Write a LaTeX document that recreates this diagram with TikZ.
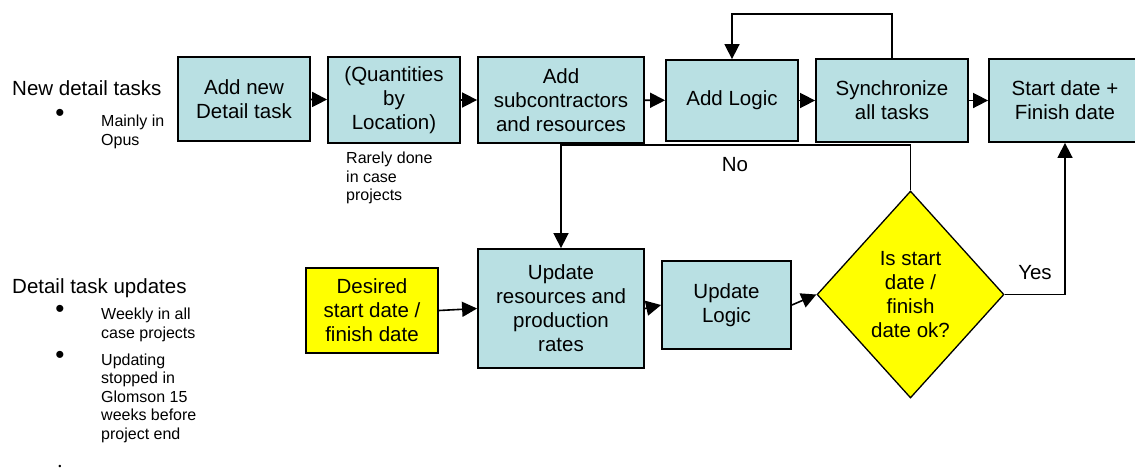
\documentclass[tikz,border=0pt]{standalone}
\usepackage{fontspec}
\setmainfont{Liberation Sans}
\usetikzlibrary{shapes.geometric,arrows.meta}
\definecolor{boxfill}{RGB}{185,224,227}
\definecolor{decfill}{RGB}{255,255,0}

\begin{document}
\begin{tikzpicture}[x=1pt,y=-1pt,
  box/.style={draw=black, line width=1.8pt, fill=boxfill, inner sep=0pt,
    align=center, font=\fontsize{20.5}{24}\selectfont},
  ybox/.style={box, fill=decfill},
  decision/.style={diamond, draw=black, line width=1.3pt, fill=decfill,
    inner sep=0pt, align=center, font=\fontsize{20.5}{24}\selectfont},
  arr/.style={line width=1.6pt, -{Triangle[length=15pt,width=15pt]}},
  heading/.style={font=\fontsize{20.5}{24}\selectfont, anchor=base west, inner sep=0pt},
  note/.style={font=\fontsize{16}{18.5}\selectfont, anchor=west, inner sep=0pt, align=left},
  dot/.style={font=\fontsize{26}{28}\selectfont, inner sep=0pt},
  lbl/.style={font=\fontsize{20.5}{24}\selectfont, inner sep=0pt}
]
\useasboundingbox (0,0) rectangle (1135,472);

% left-hand notes
\node[heading] (h1) at (12,95) {New detail tasks};
\node[dot] (d1) at (60,115) {•};
\node[note] (n1) at (101,132) {Mainly in\\Opus};

\node[heading] (h2) at (12,293) {Detail task updates};
\node[dot] (d2) at (60,311) {•};
\node[note] (n2) at (101,325) {Weekly in all\\case projects};
\node[dot] (d3) at (60,357) {•};
\node[note] (n3) at (101,398) {Updating\\stopped in\\Glomson 15\\weeks before\\project end};
\node[dot, font=\fontsize{9}{10}\selectfont] (d4) at (60,467) {•};

% top row
\node[box, minimum width=132pt, minimum height=84pt] (b1) at (244,99) {Add new\\Detail task};
\node[box, minimum width=132pt, minimum height=86pt] (b2) at (394,100) {(Quantities\\by\\Location)};
\node[box, minimum width=166pt, minimum height=86pt] (b3) at (561,100) {Add\\subcontractors\\and resources};
\node[box, minimum width=132pt, minimum height=81pt] (b4) at (732,100.5) {Add Logic};
\node[box, minimum width=152pt, minimum height=83pt] (b5) at (892,100.5) {Synchronize\\all tasks};
\node[box, minimum width=152pt, minimum height=83pt] (b6) at (1065,100.5) {Start date +\\Finish date};

\node[note] (rare) at (346,178) {Rarely done\\in case\\projects};

% bottom row
\node[ybox, minimum width=132pt, minimum height=85pt] (des) at (372,310.5) {Desired\\start date /\\finish date};
\node[box, minimum width=166pt, minimum height=119pt] (ur) at (561,308.5) {Update\\resources and\\production\\rates};
\node[box, minimum width=129pt, minimum height=88pt] (ul) at (726.5,305) {Update\\Logic};
\node[decision, minimum width=187pt, minimum height=207pt] (dec) at (910.5,294.5) {Is start\\date /\\finish\\date ok?};

% connectors
\draw[arr] (b1) -- (b2);
\draw[arr] (b2) -- (b3);
\draw[arr] (b3) -- (b4);
\draw[arr] (b4) -- (b5);
\draw[arr] (b5) -- (b6);

\coordinate (looptop) at (812,14);
\draw[arr] (b5.north) |- (looptop) -| (b4.north);

\coordinate (nojoin) at (735,145);
\draw[arr] (dec.north) |- (nojoin) -| (ur.north);
\node[lbl] (no) at (735,165) {No};

\draw[arr] (des.east) -- (ur.west);
\draw[arr] (ur.east) -- (ul.west);
\draw[arr] (ul.east) -- (dec.west);

\draw[arr] (dec.east) -| (b6.south);
\node[lbl] (yes) at (1035,273) {Yes};
\end{tikzpicture}
\end{document}
